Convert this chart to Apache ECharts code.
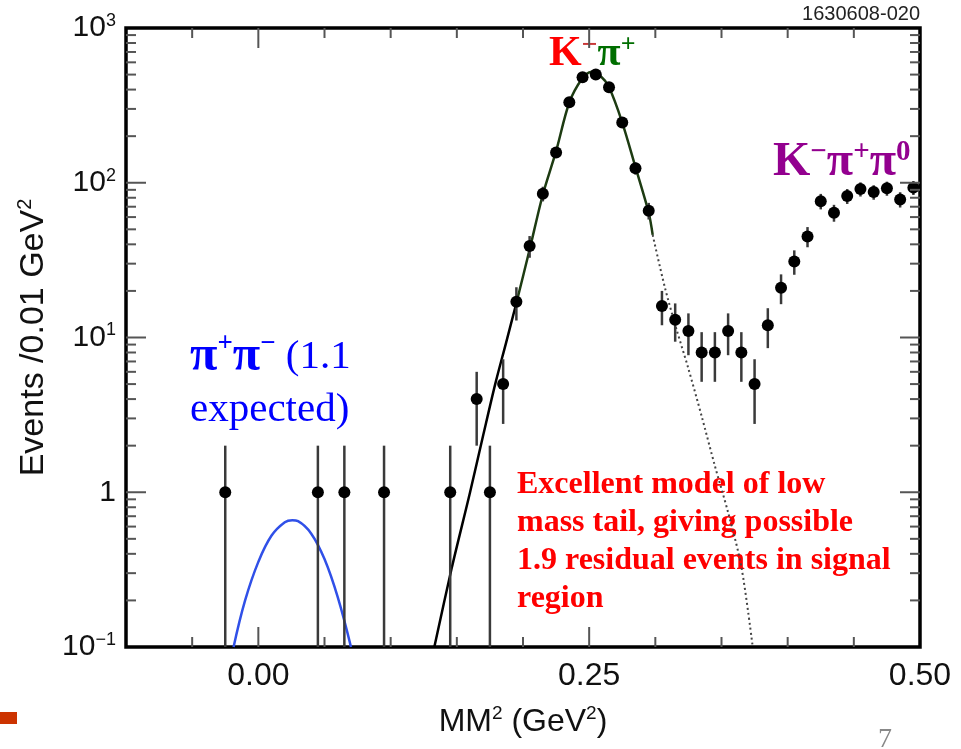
<!DOCTYPE html>
<html>
<head>
<meta charset="utf-8">
<script src="https://cdn.jsdelivr.net/npm/echarts@6/dist/echarts.min.js"></script>
<style>
html, body { margin: 0; padding: 0; background: #fff; }
#main { width: 961px; height: 749px; }
</style>
</head>
<body>
<div id="main"></div>
<script>
// bin centres (GeV^2) and event counts per 0.01 GeV^2
var binCenters = [-0.025, 0.045, 0.065, 0.095, 0.145, 0.165, 0.175, 0.185, 0.195, 0.205,
    0.215, 0.225, 0.235, 0.245, 0.255, 0.265, 0.275, 0.285, 0.295, 0.305,
    0.315, 0.325, 0.335, 0.345, 0.355, 0.365, 0.375, 0.385, 0.395, 0.405,
    0.415, 0.425, 0.435, 0.445, 0.455, 0.465, 0.475, 0.485, 0.495];
var binCounts = [1, 1, 1, 1, 1, 4, 1, 5, 17, 39,
    85, 157, 331, 480, 500, 414, 245, 124, 66, 16,
    13, 11, 8, 8, 11, 8, 5, 12, 21, 31,
    45, 76, 64, 82, 91, 87, 92, 78, 93];

// K- pi+ fit, low mass tail (black)
var tailLowX = [0.133, 0.146, 0.16, 0.17, 0.179, 0.187, 0.195];
var tailLowY = [0.1, 0.32, 1.0, 2.35, 5.0, 9.1, 16.7];
// K- pi+ fit, peak (green)
var peakX = [0.195, 0.205, 0.215, 0.225, 0.235, 0.245, 0.2515, 0.258, 0.265, 0.275, 0.285, 0.295, 0.298];
var peakY = [16.7, 37, 84, 160, 330, 475, 520, 495, 414, 245, 126, 64, 46];
// K- pi+ fit, extrapolation (dotted)
var tailHighX = [0.298, 0.307, 0.316, 0.3245, 0.335, 0.345, 0.355, 0.365, 0.3736];
var tailHighY = [46, 21.4, 11.3, 6.5, 3.1, 1.48, 0.74, 0.33, 0.1];
// pi+ pi- expectation (blue)
var pipiX = [-0.0187, -0.01, 0.0, 0.01, 0.02, 0.0257, 0.03, 0.04, 0.05, 0.06, 0.070];
var pipiY = [0.1, 0.2, 0.355, 0.525, 0.64, 0.66, 0.65, 0.54, 0.37, 0.21, 0.1];

// axis tick labels
var xTickLabels = { '0': '0.00', '0.25': '0.25', '0.5': '0.50' };
var yTickLabels = { '-1': '10{s|−1}', '0': '1', '1': '10{s|1}', '2': '10{s|2}', '3': '10{s|3}' };

function pairs(xs, ys) {
    return xs.map(function (x, i) { return [x, ys[i]]; });
}

map();

function map() {
    var myChart = echarts.init(document.getElementById('main'));

    // tick marks on all four sides: [x, y, kind(0=x,1=y), length]
    var ticks = [];
    for (var i = -1; i <= 9; i++) {
        var v = Math.round(i * 5) / 100;
        ticks.push([v, 1, 0, (i % 5 === 0) ? 20 : 10]);
    }
    for (var k = -1; k <= 2; k++) {
        if (k > -1) ticks.push([0, Math.pow(10, k), 1, 20]);
        for (var m = 2; m <= 9; m++) ticks.push([0, m * Math.pow(10, k), 1, 10]);
    }

    var errData = binCenters.map(function (x, i) {
        var n = binCounts[i], e = Math.sqrt(n);
        return [x, n - e, n + e];
    });

    var option = {
        backgroundColor: '#fff',
        animation: false,
        grid: {
            left: 126, top: 28, width: 794, height: 619,
            show: true, borderColor: '#000', borderWidth: 3.5, backgroundColor: 'transparent'
        },
        xAxis: {
            type: 'value', min: -0.1, max: 0.5, interval: 0.05,
            axisLine: { show: false }, axisTick: { show: false }, splitLine: { show: false },
            axisLabel: {
                margin: 13, color: '#111', fontFamily: 'Liberation Sans', fontSize: 32, lineHeight: 32,
                showMinLabel: true, showMaxLabel: true,
                formatter: function (val) {
                    var key = String(Math.round(val * 100) / 100);
                    return xTickLabels[key] || '';
                }
            },
            name: 'MM{s|2} (GeV{s|2})', nameLocation: 'middle', nameGap: 57,
            nameTextStyle: {
                color: '#111', fontFamily: 'Liberation Sans', fontSize: 32, lineHeight: 36,
                rich: { s: { fontSize: 19, lineHeight: 19, verticalAlign: 'top', fontFamily: 'Liberation Sans', color: '#111' } }
            }
        },
        yAxis: {
            type: 'log', logBase: 10, min: 0.1, max: 1000,
            axisLine: { show: false }, axisTick: { show: false }, splitLine: { show: false },
            minorTick: { show: false },
            axisLabel: {
                margin: 10, color: '#111', fontFamily: 'Liberation Sans', fontSize: 30, lineHeight: 32,
                showMinLabel: true, showMaxLabel: true,
                formatter: function (val) {
                    return yTickLabels[String(Math.round(Math.log10(val)))] || '';
                },
                rich: { s: { fontSize: 18, lineHeight: 19, verticalAlign: 'top', fontFamily: 'Liberation Sans', color: '#111' } }
            },
            name: 'Events /0.01 GeV{s|2}', nameLocation: 'middle', nameGap: 74, nameRotate: 90,
            nameTextStyle: {
                color: '#111', fontFamily: 'Liberation Sans', fontSize: 34, lineHeight: 36,
                rich: { s: { fontSize: 20, lineHeight: 20, verticalAlign: 'top', fontFamily: 'Liberation Sans', color: '#111' } }
            }
        },
        graphic: [
            { type: 'text', style: { text: '1630608-020', x: 920, y: 14, textAlign: 'right', textVerticalAlign: 'middle',
                font: '20px "Liberation Sans"', fill: '#222' } },
            { type: 'text', style: { text: '7', x: 878, y: 740, textAlign: 'left', textVerticalAlign: 'middle',
                font: '28px "Liberation Serif"', fill: '#888' } },
            { type: 'rect', shape: { x: 0, y: 712, width: 17, height: 12 }, style: { fill: '#cc3300' } },
            { type: 'text', style: {
                text: '{k|K}{ks|−}{p|π}{ps|+}', x: 549, y: 32, textAlign: 'left', textVerticalAlign: 'top',
                rich: {
                    k: { font: 'bold 42px "Liberation Serif"', fill: '#ff0000', lineHeight: 44 },
                    ks: { font: 'bold 28px "Liberation Serif"', fill: '#c83838', lineHeight: 22, verticalAlign: 'top' },
                    p: { font: 'bold 42px "Liberation Serif"', fill: '#006e00', lineHeight: 44 },
                    ps: { font: 'bold 26px "Liberation Serif"', fill: '#006e00', lineHeight: 26, verticalAlign: 'top' }
                } } },
            { type: 'text', style: {
                text: '{k|K}{s|−}{k|π}{s|+}{k|π}{s|0}', x: 773, y: 138, textAlign: 'left', textVerticalAlign: 'top',
                rich: {
                    k: { font: 'bold 48px "Liberation Serif"', fill: '#93008f', lineHeight: 50 },
                    s: { font: 'bold 29px "Liberation Serif"', fill: '#93008f', lineHeight: 30, verticalAlign: 'top' }
                } } },
            { type: 'text', style: {
                text: '{b|π}{s|+}{b|π}{s|−}{r| (1.1}\n{r|expected)}', x: 190, y: 331, textAlign: 'left', textVerticalAlign: 'top',
                rich: {
                    b: { font: 'bold 50px "Liberation Serif"', fill: '#0000ff', lineHeight: 53 },
                    s: { font: 'bold 27px "Liberation Serif"', fill: '#0000ff', lineHeight: 40, verticalAlign: 'top' },
                    r: { font: '41px "Liberation Serif"', fill: '#0000ff', lineHeight: 53 }
                } } },
            { type: 'text', style: {
                text: 'Excellent model of low\nmass tail, giving possible\n1.9 residual events in signal\nregion',
                x: 517, y: 466, textAlign: 'left', textVerticalAlign: 'top',
                font: 'bold 32px "Liberation Serif"', fill: '#ff0000', lineHeight: 38 } }
        ],
        series: [
            {
                type: 'line', name: 'pipi', data: pairs(pipiX, pipiY), smooth: 0.4, showSymbol: false,
                lineStyle: { color: '#3050e8', width: 2.5 }, z: 2
            },
            {
                type: 'line', name: 'tailLow', data: pairs(tailLowX, tailLowY), smooth: 0.3, showSymbol: false,
                lineStyle: { color: '#000', width: 2.5 }, z: 2
            },
            {
                type: 'line', name: 'peak', data: pairs(peakX, peakY), smooth: 0.3, showSymbol: false,
                lineStyle: { color: '#1d3b12', width: 2.5 }, z: 2
            },
            {
                type: 'line', name: 'tailHigh', data: pairs(tailHighX, tailHighY), smooth: 0.3, showSymbol: false,
                lineStyle: { color: '#444', width: 2, type: [2, 3] }, z: 2
            },
            {
                type: 'custom', name: 'errors', data: errData, encode: { x: 0, y: 2 }, z: 3,
                renderItem: function (params, api) {
                    var cs = params.coordSys;
                    var x = api.value(0), lo = api.value(1), hi = api.value(2);
                    var bottom = cs.y + cs.height;
                    var pTop = api.coord([x, hi]);
                    var yb = lo > 0 ? Math.min(api.coord([x, lo])[1], bottom) : bottom;
                    return { type: 'line', shape: { x1: pTop[0], y1: Math.max(pTop[1], cs.y), x2: pTop[0], y2: yb },
                        style: { stroke: '#3a3a3a', lineWidth: 2.5 } };
                }
            },
            {
                type: 'scatter', name: 'data', data: pairs(binCenters, binCounts), symbolSize: 12,
                itemStyle: { color: '#000', opacity: 1 }, z: 4
            },
            {
                type: 'custom', name: 'ticks', data: ticks, encode: { x: 0, y: 1 }, z: 5, silent: true,
                renderItem: function (params, api) {
                    var cs = params.coordSys;
                    var st = { stroke: '#555', lineWidth: 2 };
                    var len = api.value(3);
                    if (api.value(2) === 0) {
                        var px = api.coord([api.value(0), 1])[0];
                        var bot = cs.y + cs.height, top = cs.y;
                        return { type: 'group', children: [
                            { type: 'line', shape: { x1: px, y1: bot, x2: px, y2: bot - len }, style: st },
                            { type: 'line', shape: { x1: px, y1: top, x2: px, y2: top + len }, style: st }
                        ] };
                    }
                    var py = api.coord([0, api.value(1)])[1];
                    var l = cs.x, r = cs.x + cs.width;
                    return { type: 'group', children: [
                        { type: 'line', shape: { x1: l, y1: py, x2: l + len, y2: py }, style: st },
                        { type: 'line', shape: { x1: r, y1: py, x2: r - len, y2: py }, style: st }
                    ] };
                }
            }
        ]
    };
    myChart.setOption(option);
}
</script>
</body>
</html>
